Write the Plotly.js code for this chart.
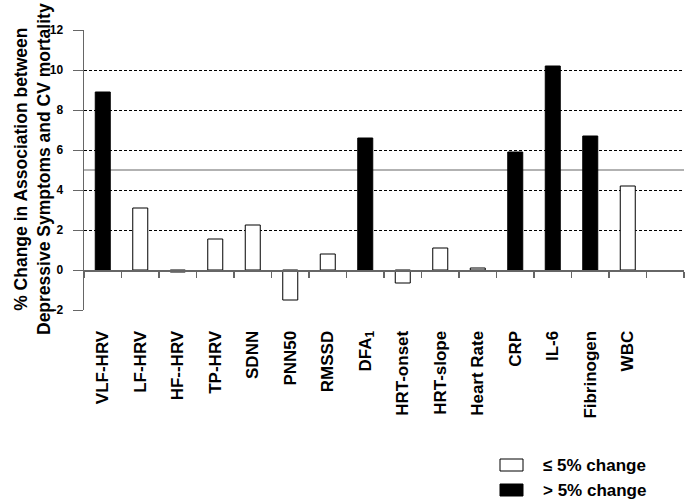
<!DOCTYPE html>
<html>
<head>
<meta charset="utf-8">
<script src="https://cdn.plot.ly/plotly-3.0.1.min.js"></script>
<style>html,body{margin:0;padding:0;background:#fff;}#chart{width:695px;height:503px;}</style>
</head>
<body>
<div id="chart"></div>
<script>
const categories = ["VLF-HRV","LF-HRV","HF--HRV","TP-HRV","SDNN","PNN50","RMSSD","DFA<sub>1</sub>","HRT-onset","HRT-slope","Heart Rate","CRP","IL-6","Fibrinogen","WBC"];
const values = [8.9, 3.1, -0.1, 1.55, 2.25, -1.5, 0.8, 6.6, -0.65, 1.1, 0.1, 5.9, 10.2, 6.7, 4.2];
const threshold = 5;
const yTicks = [-2, 0, 2, 4, 6, 8, 10, 12];
const legendLabels = ["\u2264 5% change", "> 5% change"];

const FONT = "Liberation Sans, Arial, sans-serif";
const B = s => "<b>" + s + "</b>";
const idx = categories.map((c, i) => i);
const nSlots = categories.length + 1;

const lowX = [], lowY = [], highX = [], highY = [];
values.forEach((v, i) => {
  if (v > threshold) { highX.push(i); highY.push(v); }
  else { lowX.push(i); lowY.push(v); }
});

const traces = [
  {type: "bar", x: lowX, y: lowY, name: legendLabels[0], width: 0.4,
   marker: {color: "#ffffff", line: {color: "#000000", width: 1}}, showlegend: false},
  {type: "bar", x: highX, y: highY, name: legendLabels[1], width: 0.4,
   marker: {color: "#000000", line: {color: "#000000", width: 1}}, showlegend: false},
  {type: "scatter", mode: "markers", x: [null], y: [null], xaxis: "x2", showlegend: false, hoverinfo: "skip"}
];

const slotEdges = [];
for (let k = 0; k <= nSlots; k++) slotEdges.push(k - 0.5);

const layout = {
  width: 695, height: 503,
  margin: {l: 84, r: 11, t: 30, b: 193},
  paper_bgcolor: "#ffffff", plot_bgcolor: "#ffffff",
  font: {family: FONT, color: "#000000"},
  barmode: "overlay",
  xaxis: {
    range: [-0.5, nSlots - 0.5], tickvals: idx, ticktext: categories.map(B),
    tickangle: -90, showgrid: false, zeroline: false, showline: false,
    ticks: "outside", ticklen: 13, tickcolor: "rgba(0,0,0,0)",
    tickfont: {family: FONT, size: 17, color: "#000000"}
  },
  xaxis2: {
    overlaying: "x", anchor: "free", position: 2 / 14,
    range: [-0.5, nSlots - 0.5], tickvals: slotEdges, showticklabels: false,
    showgrid: false, zeroline: false, showline: true, linecolor: "#666666", linewidth: 1.5,
    ticks: "outside", ticklen: 6, tickcolor: "#666666", tickwidth: 1.2
  },
  yaxis: {
    range: [-2, 12], tickvals: yTicks, ticktext: yTicks.map(v => B(String(v))),
    showgrid: true, gridcolor: "#000000", gridwidth: 1, griddash: "3px,2px",
    zeroline: false, showline: true, linecolor: "#666666", linewidth: 1.5,
    ticks: "outside", ticklen: 10, tickcolor: "#666666", ticklabelstandoff: 7,
    tickfont: {family: FONT, size: 12, color: "#000000"}
  },
  shapes: [
    {type: "line", xref: "paper", yref: "y", x0: 0, x1: 1, y0: threshold, y1: threshold,
     line: {color: "#999999", width: 1.5}, layer: "below"},
    {type: "rect", xref: "paper", yref: "paper", x0: 416/600, x1: 439/600, y0: -149/280, y1: -161/280,
     line: {color: "#000000", width: 1}, fillcolor: "#ffffff"},
    {type: "rect", xref: "paper", yref: "paper", x0: 416/600, x1: 439/600, y0: -174/280, y1: -186/280,
     line: {color: "#000000", width: 1}, fillcolor: "#000000"}
  ],
  annotations: [
    {xref: "paper", yref: "paper", x: -52/600, y: 141/280, xanchor: "center", yanchor: "middle",
     textangle: -90, showarrow: false,
     text: B("% Change in Association between<br>Depressive Symptoms and CV mortality"),
     font: {family: FONT, size: 17.5, color: "#000000"}},
    {xref: "paper", yref: "paper", x: 457/600, y: -155/280, xanchor: "left", yanchor: "middle",
     showarrow: false, text: B(legendLabels[0]),
     font: {family: FONT, size: 17, color: "#000000"}},
    {xref: "paper", yref: "paper", x: 457/600, y: -180/280, xanchor: "left", yanchor: "middle",
     showarrow: false, text: B(legendLabels[1]),
     font: {family: FONT, size: 17, color: "#000000"}}
  ]
};

Plotly.newPlot("chart", traces, layout, {displayModeBar: false, staticPlot: true});
</script>
</body>
</html>
